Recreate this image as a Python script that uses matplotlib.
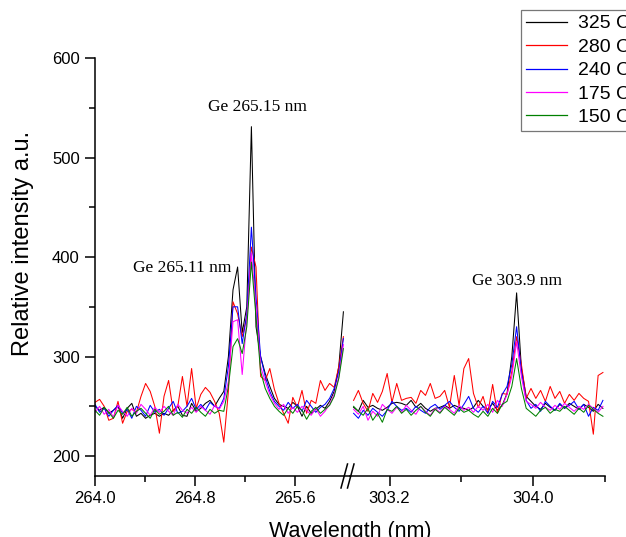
import numpy as np
import matplotlib
matplotlib.use("Agg")
import matplotlib.pyplot as plt
from matplotlib.lines import Line2D
from matplotlib.ticker import FixedLocator, FormatStrFormatter

# ---------------- data ----------------
labels = ["325 C", "280 C", "240 C", "175 C", "150 C"]
colors = ["#000000", "#ff0000", "#0000ff", "#ff00ff", "#008000"]

# left segment wavelength grid (nm)
wl_left = np.round(264.0 + 0.0368 * np.arange(55), 4)
# right segment wavelength grid (nm)
wl_right = np.round(303.0 + 0.0267 * np.arange(53), 4)

black_L = [250, 246, 249, 243, 246, 250, 238, 248, 253, 240,
           243, 238, 241, 243, 240, 243, 241, 246, 250, 241,
           240, 253, 245, 248, 253, 256, 250, 258,
           265, 300, 367, 390, 324, 350, 531, 330, 300, 283, 270,
           258, 252, 250, 248, 254, 250, 240, 250, 243, 247, 251, 248, 255, 265, 290, 345]
red_L = [254, 257, 250, 236, 238, 255, 233, 245, 247, 244,
         260, 273, 265, 250, 223, 260, 276, 245, 250, 280,
         250, 288, 248, 262, 269, 264, 255, 243,
         214, 265, 355, 343, 320, 340, 410, 390, 280, 276, 288,
         267, 253, 243, 233, 259, 249, 266, 243, 256, 253, 276, 266, 273, 269, 290, 320]
blue_L = [252, 244, 248, 240, 246, 251, 243, 247, 238, 250,
          246, 240, 251, 244, 247, 241, 248, 255, 243, 245,
          250, 258, 247, 252, 246, 254, 250, 248,
          258, 290, 350, 350, 313, 343, 430, 360, 300, 280, 265,
          255, 250, 246, 254, 248, 252, 245, 256, 250, 244, 249, 252, 258, 268, 285, 318]
magenta_L = [244, 250, 242, 247, 239, 251, 245, 240, 248, 243,
             252, 247, 241, 249, 244, 250, 245, 241, 252, 246,
             243, 249, 244, 250, 246, 242, 251, 247,
             255, 275, 335, 337, 282, 337, 404, 350, 290, 275, 262,
             253, 247, 252, 243, 249, 244, 250, 246, 241, 248, 240, 245, 252, 262, 280, 312]
green_L = [246, 241, 249, 244, 238, 246, 242, 249, 240, 245,
           248, 243, 238, 247, 242, 245, 250, 241, 244, 239,
           247, 243, 249, 244, 240, 247, 243, 246,
           245, 270, 310, 318, 303, 330, 395, 340, 285, 268, 258,
           250, 245, 241, 248, 243, 250, 246, 237, 245, 249, 243, 247, 251, 260, 278, 308]

black_R = [249, 245, 256, 249, 251, 248, 246, 249, 253, 254,
           253, 251, 256, 249, 253, 248, 245, 248, 249, 251,
           248, 251, 249, 248, 246, 249, 256,
           250, 247, 253, 246, 251, 263, 300, 364, 288, 260,
           255, 250, 247, 253, 249, 246, 252, 248, 253, 250, 247, 252, 249, 245, 252, 248]
red_R = [256, 266, 253, 245, 263, 254, 265, 283, 254, 273,
         256, 258, 259, 253, 266, 261, 273, 258, 260, 266,
         249, 281, 251, 288, 298, 263, 249,
         260, 243, 272, 243, 263, 262, 285, 320, 292, 258,
         268, 258, 266, 255, 270, 258, 265, 253, 262, 256, 263, 258, 255, 222, 281, 284]
blue_R = [243, 238, 246, 241, 248, 244, 240, 246, 255, 250,
          246, 248, 244, 250, 246, 243, 249, 252, 247, 251,
          255, 249, 245, 252, 260, 248, 244,
          250, 243, 255, 249, 262, 270, 292, 330, 285, 256,
          248, 252, 245, 255, 250, 246, 253, 248, 251, 255, 247, 252, 240, 249, 246, 256]
magenta_R = [247, 242, 250, 236, 245, 240, 252, 247, 243, 249,
             244, 251, 246, 242, 250, 245, 241, 248, 244, 250,
             247, 243, 251, 246, 249, 244, 250,
             246, 252, 244, 256, 250, 262, 280, 315, 280, 255,
             252, 248, 254, 249, 246, 251, 247, 253, 249, 245, 250, 247, 252, 248, 244, 250]
green_R = [250, 245, 241, 248, 236, 243, 234, 247, 245, 250,
           243, 247, 241, 246, 250, 244, 240, 247, 243, 249,
           245, 241, 248, 244, 246, 242, 239,
           245, 240, 248, 243, 252, 255, 270, 298, 268, 248,
           244, 240, 246, 249, 243, 247, 245, 250, 246, 242, 248, 244, 251, 247, 243, 240]

left_series = [black_L, red_L, blue_L, magenta_L, green_L]
right_series = [black_R, red_R, blue_R, magenta_R, green_R]

left_major = [264.0, 264.8, 265.6]
left_minor = [264.4, 265.2]
right_major = [303.2, 304.0]
right_minor = [303.6, 304.4]
y_major = [200, 300, 400, 500, 600]
y_minor = [250, 350, 450, 550]

# ---------------- figure ----------------
W, H = 626, 537
fig = plt.figure(figsize=(W / 100, H / 100), dpi=100)
plt.rcParams['font.family'] = ['Liberation Sans', 'DejaVu Sans']

x0, x_mid, x1 = 95, 350, 605
y_bot, y_top = 476, 58
ax1 = fig.add_axes([x0 / W, 1 - y_bot / H, (x_mid - x0) / W, (y_bot - y_top) / H])
ax2 = fig.add_axes([x_mid / W, 1 - y_bot / H, (x1 - x_mid) / W, (y_bot - y_top) / H], sharey=ax1)

lw = 0.75
for s, c, lab in zip(left_series, colors, labels):
    ax1.plot(wl_left, s, color=c, lw=lw, label=lab)
for s, c in zip(right_series, colors):
    ax2.plot(wl_right, s, color=c, lw=lw)

ax1.set_xlim(264.0, 266.04)
ax2.set_xlim(302.98, 304.4)
ax1.set_ylim(180, 600)

for ax in (ax1, ax2):
    ax.spines['top'].set_visible(False)
    ax.spines['right'].set_visible(False)
    for sp in ax.spines.values():
        sp.set_linewidth(1.1)
    ax.tick_params(which='major', direction='out', length=7, width=1.1, labelsize=12, pad=4)
    ax.tick_params(which='minor', direction='out', length=4.5, width=1.1)
    ax.xaxis.set_major_formatter(FormatStrFormatter('%.1f'))
    ax.patch.set_alpha(0)

ax2.spines['left'].set_visible(False)
ax2.tick_params(axis='y', which='both', left=False, labelleft=False)

ax1.xaxis.set_major_locator(FixedLocator(left_major))
ax1.xaxis.set_minor_locator(FixedLocator(left_minor))
ax2.xaxis.set_major_locator(FixedLocator(right_major))
ax2.xaxis.set_minor_locator(FixedLocator(right_minor))
ax1.yaxis.set_major_locator(FixedLocator(y_major))
ax1.yaxis.set_minor_locator(FixedLocator(y_minor))

# break marks
for dx in (0, 6.5):
    fig.add_artist(Line2D([(341 + dx) / W, (347.5 + dx) / W], [1 - 488 / H, 1 - 464 / H],
                          color='black', lw=1.1))

# labels
fig.text(x_mid / W, 1 - 521 / H, 'Wavelength (nm)', ha='center', va='top', fontsize=15.5)
fig.text(23 / W, 1 - 243 / H, 'Relative intensity a.u.', ha='center', va='center',
         rotation=90, fontsize=17)

# annotations
serif = ['Liberation Serif', 'DejaVu Serif']
ax1.text(265.30, 551, 'Ge 265.15 nm', ha='center', va='center', fontsize=12.5, family=serif)
ax1.text(264.70, 389, 'Ge 265.11 nm', ha='center', va='center', fontsize=12.5, family=serif)
ax2.text(303.91, 376, 'Ge 303.9 nm', ha='center', va='center', fontsize=12.5, family=serif)

# legend (partially outside the figure, as in the reference)
leg = fig.legend(loc='upper left', bbox_to_anchor=(521 / W, 1 - 10 / H), fontsize=14,
                 frameon=True, fancybox=False, handlelength=2.1, handletextpad=0.6,
                 labelspacing=0.3, borderpad=0.25, borderaxespad=0)
leg.get_frame().set_edgecolor('#555555')
leg.get_frame().set_linewidth(0.9)
for h in leg.get_lines():
    h.set_linewidth(0.9)

fig.savefig('out.png', dpi=100)
